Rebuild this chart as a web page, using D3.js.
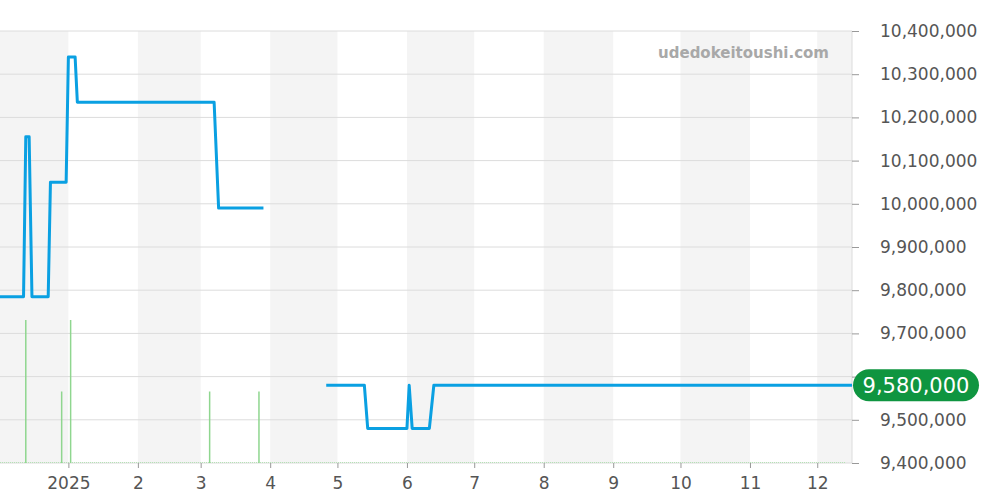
<!DOCTYPE html>
<html>
<head>
<meta charset="utf-8">
<script src="https://cdn.jsdelivr.net/npm/d3@7"></script>
<style>
  body { margin: 0; background: #fff; }
  svg { display: block; font-family: "DejaVu Sans", sans-serif; }
</style>
</head>
<body>
<script>
// price history (null = no data)
var priceDates = [
  "2024-12-01T12:00", "2024-12-12", "2024-12-13", "2024-12-14T12:00", "2024-12-15T18:00",
  "2024-12-23", "2024-12-24", "2024-12-31", "2025-01-01", "2025-01-04", "2025-01-05",
  "2025-03-07", "2025-03-09", "2025-03-29", "2025-04-10",
  "2025-04-26", "2025-05-13", "2025-05-14T12:00", "2025-06-01", "2025-06-02",
  "2025-06-03T08:00", "2025-06-11", "2025-06-13", "2025-12-16T12:00"
];
var prices = [
  9785000, 9785000, 10155000, 10155000, 9785000,
  9785000, 10050000, 10050000, 10340000, 10340000, 10235000,
  10235000, 9990000, 9990000, null,
  9580000, 9580000, 9480000, 9480000, 9580000,
  9480000, 9480000, 9580000, 9580000
];

// trade volume
var volDates = ["2024-12-13", "2024-12-29", "2025-01-02", "2025-03-05", "2025-03-27"];
var volCounts = [2, 1, 2, 1, 1];

var yTicks = [9400000, 9500000, 9600000, 9700000, 9800000, 9900000,
  10000000, 10100000, 10200000, 10300000, 10400000];
var lastPrice = 9580000;

var width = 1000, height = 500;
var plot = { left: 0, right: 852, top: 31, bottom: 463 };

var svg = d3.select("body").append("svg")
  .attr("width", width)
  .attr("height", height);

var parse = d3.isoParse;
var x = d3.scaleTime()
  .domain([parse("2024-12-01T12:00"), parse("2025-12-16T12:00")])
  .range([plot.left, plot.right]);
var y = d3.scaleLinear()
  .domain([9400000, 10400000])
  .range([plot.bottom, plot.top]);
var yVol = d3.scaleLinear()
  .domain([0, 2])
  .range([plot.bottom, 320]);

// month bands
var months = d3.timeMonth.range(d3.timeMonth.floor(x.domain()[0]), x.domain()[1]);
svg.append("g").selectAll("rect")
  .data(months.filter(function (m) { return m.getMonth() % 2 == 1; }))
  .enter().append("rect")
  .attr("x", function (m) { return Math.max(plot.left, x(m)); })
  .attr("width", function (m) {
    var end = Math.min(plot.right, x(d3.timeMonth.offset(m, 1)));
    return end - Math.max(plot.left, x(m));
  })
  .attr("y", plot.top)
  .attr("height", plot.bottom - plot.top)
  .attr("fill", "#f4f4f4");

// grid lines
svg.append("g").selectAll("line")
  .data(yTicks)
  .enter().append("line")
  .attr("x1", plot.left).attr("x2", plot.right)
  .attr("y1", function (d) { return y(d); })
  .attr("y2", function (d) { return y(d); })
  .attr("stroke", "#dcdcdc");

// right axis line
svg.append("line")
  .attr("x1", plot.right).attr("x2", plot.right)
  .attr("y1", plot.top).attr("y2", plot.bottom)
  .attr("stroke", "#dcdcdc");

// watermark
svg.append("text")
  .attr("x", 829).attr("y", 58)
  .attr("text-anchor", "end")
  .attr("font-size", "15px")
  .attr("font-weight", "bold")
  .attr("fill", "#a8a8a8")
  .text("udedokeitoushi.com");

// volume baseline (dotted)
svg.append("line")
  .attr("x1", plot.left).attr("x2", 845)
  .attr("y1", plot.bottom - 0.5).attr("y2", plot.bottom - 0.5)
  .attr("stroke", "#b5e2b5")
  .attr("stroke-dasharray", "1,1");

// volume bars
svg.append("g").selectAll("line")
  .data(volDates.map(function (d, i) { return { date: parse(d), v: volCounts[i] }; }))
  .enter().append("line")
  .attr("x1", function (d) { return x(d.date); })
  .attr("x2", function (d) { return x(d.date); })
  .attr("y1", function (d) { return yVol(0); })
  .attr("y2", function (d) { return yVol(d.v); })
  .attr("stroke", "#8fd68f")
  .attr("stroke-width", 1.5);

// price line
var data = priceDates.map(function (d, i) { return { date: parse(d), v: prices[i] }; });
var valueline = d3.line()
  .defined(function (d) { return d.v != null; })
  .x(function (d) { return x(d.date); })
  .y(function (d) { return y(d.v); });

svg.append("path")
  .datum(data)
  .attr("d", valueline)
  .attr("fill", "none")
  .attr("stroke", "#0aa0e2")
  .attr("stroke-width", 3)
  .attr("stroke-linejoin", "round");

// y axis (right); the label hidden behind the badge is skipped
var yAxis = svg.append("g")
  .attr("transform", "translate(" + plot.right + ",0)")
  .call(d3.axisRight(y).tickValues(yTicks).tickSize(7).tickPadding(21)
    .tickFormat(function (d) {
      return Math.abs(d - lastPrice) < 50000 ? "" : d3.format(",")(d);
    }));
yAxis.select(".domain").remove();
yAxis.selectAll("line").attr("stroke", "#999");
yAxis.selectAll("text")
  .attr("font-size", "17px")
  .attr("font-family", "DejaVu Sans, sans-serif")
  .attr("fill", "#555");

// x axis
var xAxis = svg.append("g")
  .attr("transform", "translate(0," + plot.bottom + ")")
  .call(d3.axisBottom(x).ticks(d3.timeMonth.every(1)).tickSize(5).tickPadding(9)
    .tickFormat(function (d) {
      return d.getMonth() == 0 ? d3.timeFormat("%Y")(d) : String(d.getMonth() + 1);
    }));
xAxis.select(".domain").remove();
xAxis.selectAll("line").attr("stroke", "#999");
xAxis.selectAll("text")
  .attr("font-size", "17px")
  .attr("font-family", "DejaVu Sans, sans-serif")
  .attr("fill", "#555");

// last price badge
var badge = svg.append("g")
  .attr("transform", "translate(853," + y(lastPrice) + ")");
badge.append("rect")
  .attr("x", 0).attr("y", -16)
  .attr("width", 126).attr("height", 32)
  .attr("rx", 16)
  .attr("fill", "#0f9540");
badge.append("text")
  .attr("x", 63).attr("y", 8)
  .attr("text-anchor", "middle")
  .attr("font-size", "21px")
  .attr("fill", "#fff")
  .text(d3.format(",")(lastPrice));
</script>
</body>
</html>
